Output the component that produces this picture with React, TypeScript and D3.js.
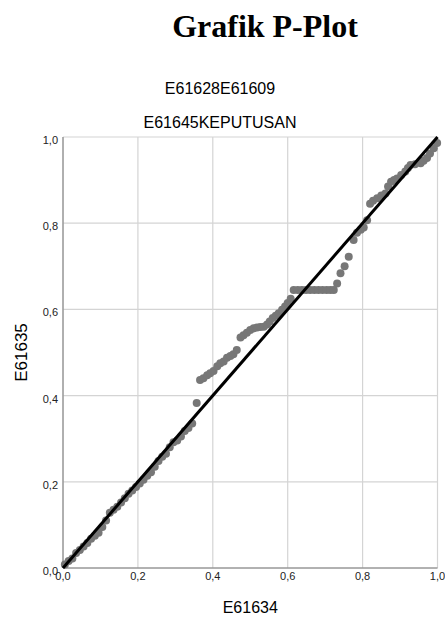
import React from 'react';
import * as d3 from 'd3';

// observed cumulative probability (x) and expected cumulative probability (y)
const observedCum = [
  0.005, 0.015, 0.025, 0.035, 0.045, 0.055, 0.065, 0.075, 0.085, 0.095,
  0.105, 0.115, 0.125, 0.135, 0.145, 0.155, 0.165, 0.175, 0.185, 0.195,
  0.205, 0.215, 0.225, 0.235, 0.245, 0.255, 0.265, 0.275, 0.285, 0.295,
  0.305, 0.315, 0.325, 0.335, 0.345, 0.357,
  0.366, 0.375, 0.385, 0.393, 0.402, 0.412, 0.42, 0.429, 0.438, 0.447,
  0.455, 0.464, 0.474, 0.482, 0.491, 0.5, 0.509, 0.518, 0.527, 0.536,
  0.545, 0.552, 0.56, 0.568, 0.576, 0.585, 0.593, 0.6, 0.608,
  0.616, 0.627, 0.638, 0.649, 0.66, 0.671, 0.682, 0.693, 0.704, 0.714, 0.723,
  0.732, 0.741, 0.752, 0.763, 0.776, 0.785, 0.795, 0.803, 0.812, 0.82,
  0.828, 0.839, 0.85, 0.861, 0.868, 0.876, 0.884, 0.892, 0.903, 0.914,
  0.921, 0.928, 0.94, 0.955, 0.963, 0.972, 0.98, 0.99, 0.999,
];
const expectedCum = [
  0.008, 0.016, 0.022, 0.035, 0.042, 0.05, 0.058, 0.068, 0.075, 0.082,
  0.095, 0.11, 0.128, 0.135, 0.142, 0.152, 0.162, 0.172, 0.18, 0.188,
  0.196, 0.205, 0.214, 0.222, 0.235, 0.248, 0.258, 0.265, 0.28, 0.292,
  0.296, 0.305, 0.318, 0.325, 0.335, 0.383,
  0.436, 0.44, 0.447, 0.452, 0.457, 0.468, 0.475, 0.479, 0.488, 0.492,
  0.496, 0.506, 0.535, 0.54, 0.546, 0.552, 0.556, 0.558, 0.559, 0.56,
  0.565, 0.572, 0.58, 0.585, 0.591, 0.599, 0.607, 0.615, 0.625,
  0.645, 0.645, 0.645, 0.645, 0.645, 0.645, 0.645, 0.645, 0.645, 0.645, 0.645,
  0.66, 0.684, 0.7, 0.722, 0.761, 0.778, 0.785, 0.79, 0.807, 0.845,
  0.852, 0.858, 0.864, 0.869, 0.885, 0.896, 0.9, 0.904, 0.912, 0.92,
  0.928, 0.935, 0.937, 0.939, 0.945, 0.951, 0.962, 0.974, 0.986,
];
const tickValues = [0, 0.2, 0.4, 0.6, 0.8, 1.0];
const tickLabels = ['0,0', '0,2', '0,4', '0,6', '0,8', '1,0'];

const sans = '"Liberation Sans", Arial, sans-serif';

export default function App() {
  const left = 63, right = 437.5, top = 137, bottom = 568;
  const x = d3.scaleLinear().domain([0, 1]).range([left, right]);
  const y = d3.scaleLinear().domain([0, 1]).range([bottom, top]);
  const points = observedCum.map((v, i) => [v, expectedCum[i]]);
  const diag = d3.line<number>().x(d => x(d)).y(d => y(d))([0, 1]);

  return (
    <svg width={445} height={625} style={{ position: 'absolute', left: 0, top: 0, background: '#fff' }}>
      <text x={265} y={37} textAnchor="middle" fontFamily='"Liberation Serif", "Times New Roman", serif'
        fontWeight="bold" fontSize={32} fill="#000">Grafik P-Plot</text>
      <text x={220} y={94} textAnchor="middle" fontFamily={sans} fontSize={16} fill="#000">E61628E61609</text>
      <text x={220} y={128} textAnchor="middle" fontFamily={sans} fontSize={16} fill="#000">E61645KEPUTUSAN</text>

      {/* grid */}
      {tickValues.map(t => (
        <line key={'gx' + t} x1={x(t)} x2={x(t)} y1={top} y2={bottom} stroke="#d4d4d4" strokeWidth={1.2} />
      ))}
      {tickValues.map(t => (
        <line key={'gy' + t} x1={left} x2={right} y1={y(t)} y2={y(t)} stroke="#d4d4d4" strokeWidth={1.2} />
      ))}
      {/* axes */}
      <line x1={left} x2={left} y1={top} y2={bottom} stroke="#7a7a7a" strokeWidth={1} />
      <line x1={left} x2={right} y1={bottom} y2={bottom} stroke="#7a7a7a" strokeWidth={1} />

      {/* points */}
      {points.map((p, i) => (
        <circle key={i} cx={x(p[0])} cy={y(p[1])} r={4} fill="#777777" />
      ))}
      <path d={diag ?? ''} stroke="#000" strokeWidth={3} fill="none" />

      {/* tick labels */}
      {tickValues.map((t, i) => (
        <text key={'ty' + t} x={58} y={y(t) + 7} textAnchor="end" fontFamily={sans} fontSize={11} fill="#222">{tickLabels[i]}</text>
      ))}
      {tickValues.map((t, i) => (
        <text key={'tx' + t} x={x(t)} y={bottom + 12} textAnchor="middle" fontFamily={sans} fontSize={11} fill="#222">{tickLabels[i]}</text>
      ))}

      <text x={(left + right) / 2} y={613} textAnchor="middle" fontFamily={sans} fontSize={16} fill="#000">E61634</text>
      <text transform={`translate(27,${(top + bottom) / 2}) rotate(-90)`} textAnchor="middle" fontFamily={sans}
        fontSize={17} fill="#000">E61635</text>
    </svg>
  );
}
